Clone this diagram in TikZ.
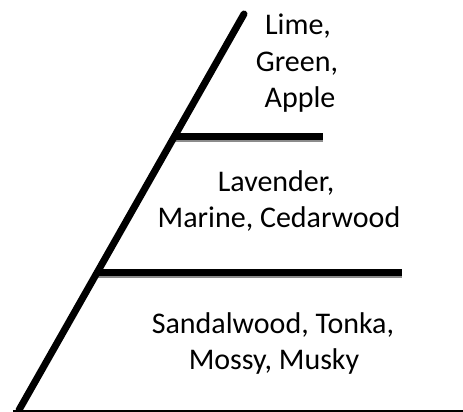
\documentclass[tikz,border=0pt]{standalone}
\usepackage{fontspec}
\setmainfont{Carlito}
\begin{document}
\begin{tikzpicture}[x=1pt,y=1pt,
  lbl/.style={anchor=base,inner sep=0pt,font=\fontsize{30}{36}\selectfont},
  thick line/.style={line width=7pt,line cap=butt},
  shade line/.style={line width=7pt,draw=black!45}]
\useasboundingbox (0,0) rectangle (463,412);
% named points
\coordinate (base) at (19,2);
\coordinate (apex) at (244,398);
\coordinate (t1) at (174,275);
\coordinate (t2) at (323,275);
\coordinate (m1) at (97,139);
\coordinate (m2) at (402,139);
\coordinate (b1) at (13,1);
\coordinate (b2) at (463,1);
% shadows
\draw[shade line] ([yshift=-1.8pt]t1) -- ([yshift=-1.8pt]t2);
\draw[shade line] ([yshift=-1.8pt]m1) -- ([yshift=-1.8pt]m2);
% lines
\draw[thick line] (t1) -- (t2);
\draw[thick line] (m1) -- (m2);
\draw[line width=7pt,line cap=round] (base) -- (apex);
\draw[line width=1.6pt] (b1) -- (b2);
% texts
\node[lbl] (lime) at (298,377) {Lime,};
\node[lbl] (green) at (297,340) {Green,};
\node[lbl] (apple) at (300,304) {Apple};
\node[lbl] (lav) at (276,220) {Lavender,};
\node[lbl] (mar) at (279,184) {Marine, Cedarwood};
\node[lbl] (san) at (273,78) {Sandalwood, Tonka,};
\node[lbl] (mos) at (274,42) {Mossy, Musky};
\end{tikzpicture}
\end{document}
